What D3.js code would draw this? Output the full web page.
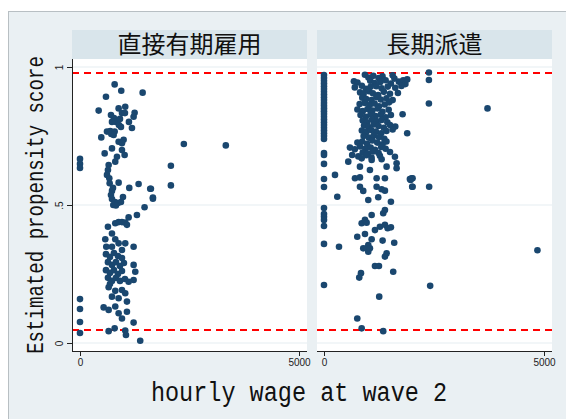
<!DOCTYPE html>
<html>
<head>
<meta charset="utf-8">
<script src="https://cdn.jsdelivr.net/npm/d3@7"></script>
<style>
  body { margin: 0; background: #fff; }
  svg { display: block; }
</style>
</head>
<body>
<script>
// panel titles
var panels = ["直接有期雇用", "長期派遣"];

// y axis ticks, x axis ticks
var yTicks = [0, 0.5, 1];
var xTicks = [0, 5000];

// trimming thresholds (red dashed lines)
var cutoffs = [0.047, 0.978];

// [hourly wage, propensity score] for 直接有期雇用
var directPoints = [
  [0,.667],[0,.649],[0,.634],[0,.159],[0,.123],[0,.076],[0,.036],
  [2371,.721],[3329,.716],[2075,.642],[2075,.571],[1619,.559],[1665,.523],
  [791,.937],[942,.914],[1430,.907],[593,.892],[426,.842],[882,.850],[1033,.856],[1247,.834],[1224,.820],
  [707,.826],[775,.815],[821,.801],[889,.790],[958,.833],[912,.812],[1026,.833],[935,.783],[1117,.801],
  [1186,.779],[730,.801],[486,.745],[616,.766],[691,.768],[791,.766],[714,.757],[768,.754],[882,.729],
  [996,.736],[958,.724],[730,.705],[958,.699],[1019,.681],[563,.687],[844,.675],[805,.657],[654,.645],
  [638,.627],[616,.609],[669,.597],[677,.579],[882,.581],[1125,.562],[1338,.576],[1603,.559],[1665,.527],
  [730,.551],[707,.536],[730,.522],[798,.511],[867,.507],[935,.511],[981,.529],[753,.562],[760,.500],[820,.498],
  [1474,.492],[1300,.464],[1110,.455],[805,.434],[882,.438],[958,.438],[1033,.436],[1072,.428],[638,.421],
  [730,.397],[577,.376],[805,.376],[600,.349],[730,.349],[882,.361],[1033,.361],[1224,.349],[958,.337],
  [593,.322],[684,.312],[775,.326],[867,.315],[958,.308],[638,.293],[730,.283],[821,.293],[912,.279],
  [1003,.290],[593,.264],[684,.254],[775,.264],[867,.250],[958,.261],[638,.236],[730,.225],[821,.236],
  [912,.225],[1026,.232],[684,.214],[1224,.283],[1262,.258],[1224,.228],[1110,.222],[654,.202],[805,.189],
  [958,.192],[730,.168],[882,.162],[1033,.180],[1072,.150],[540,.129],[654,.120],[805,.132],[882,.108],
  [958,.089],[1072,.113],[654,.043],[791,.053],[1033,.045],[1224,.074],[1049,.029],[1375,.008]
];

// [hourly wage, propensity score] for 長期派遣
var dispatchPoints = [
  // zero wage column
  [0,.971],[0,.960],[0,.950],[0,.940],[0,.930],[0,.920],[0,.910],[0,.900],[0,.890],[0,.880],[0,.870],
  [0,.860],[0,.850],[0,.840],[0,.830],[0,.820],[0,.810],[0,.800],[0,.790],[0,.780],[0,.770],[0,.760],
  [0,.750],[0,.739],[0,.688],[0,.681],[0,.649],[0,.594],[0,.565],
  [0,.489],[0,.467],[0,.457],[0,.446],[0,.424],[0,.359],[0,.210],
  // upper mass
  [930,.972],[1010,.962],[1120,.968],[1240,.960],[1330,.966],[1560,.970],[1600,.958],
  [680,.948],[760,.944],[1050,.950],[1150,.942],[1280,.946],[1400,.952],[1520,.940],[1700,.947],[1800,.952],[1850,.938],
  [700,.926],[860,.932],[950,.921],[1060,.928],[1190,.930],[1310,.923],[1450,.929],[1620,.925],[1760,.931],
  [820,.908],[900,.902],[1020,.912],[1110,.905],[1230,.898],[1360,.910],[1500,.903],[1680,.906],
  [870,.889],[960,.884],[1080,.880],[1190,.891],[1290,.882],[1420,.887],[1560,.880],
  [810,.866],[930,.870],[1040,.862],[1150,.868],[1250,.858],[1380,.864],[1480,.872],
  [760,.846],[880,.840],[990,.848],[1100,.842],[1220,.850],[1330,.838],[1470,.845],
  [830,.826],[950,.820],[1060,.830],[1170,.822],[1290,.828],[1400,.818],[1520,.826],
  [880,.806],[980,.800],[1090,.810],[1200,.803],[1310,.808],[1440,.800],
  [910,.788],[1010,.782],[1130,.792],[1240,.786],[1360,.780],[1500,.790],[1620,.784],
  [860,.770],[960,.764],[1070,.772],[1180,.766],[1300,.760],[1420,.768],[1560,.774],
  [900,.750],[1020,.744],[1130,.752],[1250,.746],[1370,.740],
  [760,.726],[870,.730],[980,.722],[1100,.734],[1210,.726],[1330,.720],[1420,.730],
  [590,.708],[700,.702],[820,.712],[940,.704],[1060,.708],[1160,.700],[1300,.710],[1400,.704],
  [880,.690],[1000,.686],[1120,.694],[1240,.688],[1500,.692],
  [640,.681],[780,.676],[960,.680],[1080,.672],[1270,.678],
  // middle and lower points
  [552,.657],[856,.669],[1083,.663],[1310,.666],[1612,.675],[1650,.651],
  [817,.639],[1044,.627],[1423,.639],[1650,.633],
  [250,.609],[704,.597],[817,.600],[1196,.597],[1385,.597],[1991,.597],[1968,.591],
  [817,.566],[892,.551],[1196,.566],[1310,.557],[1385,.552],[2004,.566],[2390,.566],
  [302,.530],[1006,.518],[1233,.528],[1521,.512],
  [1346,.470],[1385,.482],[1083,.464],
  [856,.434],[931,.446],[969,.436],
  [1158,.409],[1271,.421],[1385,.428],[1446,.416],[1521,.419],
  [756,.385],[931,.395],[1083,.376],[1332,.371],[1596,.363],
  [341,.349],[892,.343],[1006,.355],[1006,.331],[969,.343],[1044,.343],
  [1423,.325],[1385,.313],[1158,.279],[1249,.279],[1573,.258],[840,.253],[801,.237],
  [2413,.207],[1255,.168],[756,.089],[856,.053],[1346,.043],
  // outliers
  [3716,.850],[4851,.336],[2384,.980],[2384,.953],[2384,.868],
  [1891,.955],[1786,.829],[1891,.760],[1952,.594],[2013,.597],[2013,.566]
];

var width = 566, height = 419;

var svg = d3.select("body").append("svg")
  .attr("width", width)
  .attr("height", height);

// graph region
svg.append("rect")
  .attr("x", 8.5).attr("y", 11.5)
  .attr("width", 570).attr("height", 420)
  .attr("fill", "#eaf0f3")
  .attr("stroke", "#b8bfc3");

var y = d3.scaleLinear().domain([0, 1]).range([343, 67]);

var layout = [
  {title: panels[0], data: directPoints, left: 72, right: 307, x0: 80, x1: 299},
  {title: panels[1], data: dispatchPoints, left: 317, right: 552, x0: 324, x1: 544}
];

var plotTop = 59, plotBottom = 351;

layout.forEach(function(p, k) {
  var x = d3.scaleLinear().domain([0, 5000]).range([p.x0, p.x1]);
  var g = svg.append("g");

  // header strip
  g.append("rect")
    .attr("x", p.left).attr("y", 30)
    .attr("width", p.right - p.left).attr("height", plotTop - 30)
    .attr("fill", "#d9e5eb");
  g.append("text")
    .attr("x", (p.left + p.right) / 2)
    .attr("y", 53)
    .attr("text-anchor", "middle")
    .style("font-family", "'Noto Sans CJK JP'")
    .style("font-size", "24px")
    .attr("fill", "#111")
    .text(p.title);

  // plot region
  g.append("rect")
    .attr("x", p.left).attr("y", plotTop)
    .attr("width", p.right - p.left).attr("height", plotBottom - plotTop)
    .attr("fill", "#fff");

  // gridlines
  g.selectAll(".grid")
    .data(yTicks)
    .enter().append("line")
    .attr("x1", p.left).attr("x2", p.right)
    .attr("y1", function(d) { return y(d); })
    .attr("y2", function(d) { return y(d); })
    .attr("stroke", "#e6eef1")
    .attr("stroke-width", 1.2);

  // cutoff lines
  g.selectAll(".cut")
    .data(cutoffs)
    .enter().append("line")
    .attr("x1", p.left).attr("x2", p.right)
    .attr("y1", function(d) { return y(d); })
    .attr("y2", function(d) { return y(d); })
    .attr("stroke", "#ff0000")
    .attr("stroke-width", 2)
    .attr("stroke-dasharray", "7,5");

  // points
  g.selectAll(".pt")
    .data(p.data)
    .enter().append("circle")
    .attr("cx", function(d) { return x(d[0]); })
    .attr("cy", function(d) { return y(d[1]); })
    .attr("r", 3.3)
    .attr("fill", "#1a476f");

  // x axis
  var xAxis = g.append("g")
    .attr("transform", "translate(0," + plotBottom + ")")
    .call(d3.axisBottom(x).tickValues(xTicks).tickSize(5).tickPadding(3)
      .tickSizeOuter(0).tickFormat(d3.format("d")));
  xAxis.select(".domain").remove();
  xAxis.selectAll("line").attr("stroke", "#222");
  xAxis.selectAll("text")
    .style("font-family", "'Liberation Sans', Arial, sans-serif")
    .style("font-size", "10px")
    .attr("fill", "#222");
  g.append("line")
    .attr("x1", p.left).attr("x2", p.right)
    .attr("y1", plotBottom + 0.5).attr("y2", plotBottom + 0.5)
    .attr("stroke", "#222");

  // y axis only on the first panel
  if (k === 0) {
    var yAxis = g.append("g")
      .attr("transform", "translate(" + p.left + ",0)")
      .call(d3.axisLeft(y).tickValues(yTicks).tickSize(5).tickSizeOuter(0)
        .tickFormat(function(d) { return d === 0.5 ? ".5" : d; }));
    yAxis.select(".domain").remove();
    yAxis.selectAll("line").attr("stroke", "#222");
    yAxis.selectAll("text")
      .attr("x", 0).attr("dy", 0)
      .attr("text-anchor", "middle")
      .attr("transform", "translate(-9,0) rotate(-90)")
      .style("font-family", "'Liberation Sans', Arial, sans-serif")
      .style("font-size", "10px")
      .attr("fill", "#222");
    g.append("line")
      .attr("x1", p.left + 0.5).attr("x2", p.left + 0.5)
      .attr("y1", plotTop).attr("y2", plotBottom + 1)
      .attr("stroke", "#222");
  }
});

// axis titles (narrow monospace, like the original half-width font)
svg.append("text")
  .attr("transform", "translate(299,401) scale(0.84,1)")
  .attr("text-anchor", "middle")
  .style("font-family", "'Liberation Mono', monospace")
  .style("font-size", "28px")
  .attr("fill", "#111")
  .text("hourly wage at wave 2");

svg.append("text")
  .attr("transform", "translate(43,205) rotate(-90) scale(0.83,1)")
  .attr("text-anchor", "middle")
  .style("font-family", "'Liberation Mono', monospace")
  .style("font-size", "23px")
  .attr("fill", "#111")
  .text("Estimated propensity score");
</script>
</body>
</html>
